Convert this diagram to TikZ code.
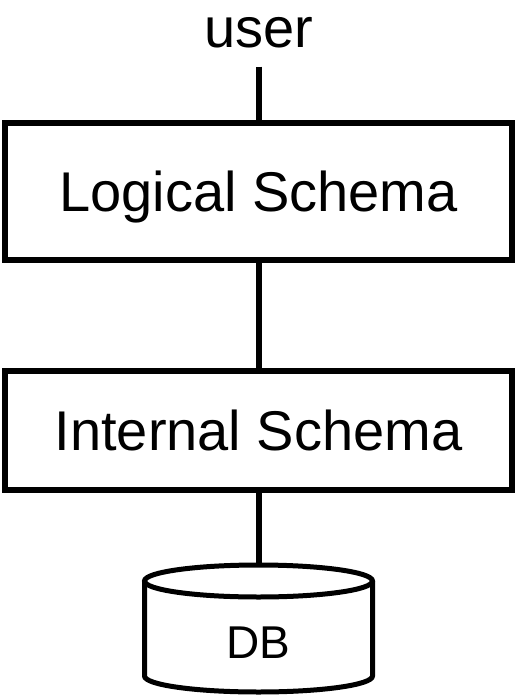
\documentclass[tikz,border=0pt]{standalone}
\usepackage{fontspec}
\setmainfont{Liberation Sans}
\begin{document}
\begin{tikzpicture}[x=1pt,y=1pt,
  schemabox/.style={draw=black, line width=6pt, minimum width=507pt, inner sep=0pt,
    text height=40pt, text depth=0pt, font=\fontsize{56}{60}\selectfont},
  conn/.style={draw=black, line width=6pt},
  big/.style={font=\fontsize{56}{60}\selectfont, inner sep=0pt}]
\useasboundingbox (0,0) rectangle (519,-699);
\node[big, anchor=base] (user) at (258.5,-47) {user};
\coordinate (usertop) at (258.5,-66.5);
\node[schemabox, minimum height=136.5pt] (b1) at (258.5,-191.25) {Logical Schema};
\node[schemabox, minimum height=118.5pt] (b2) at (258.5,-430.25) {Internal Schema};
\coordinate (dbtop) at (258.5,-565);
\draw[line width=5pt] (144.5,-581) -- (144.5,-676)
  arc[start angle=180, end angle=360, x radius=114, y radius=16]
  -- (372.5,-581);
\draw[line width=5pt] (258.5,-581) ellipse[x radius=114, y radius=16];
\node[font=\fontsize{46}{50}\selectfont, inner sep=0pt, anchor=base] (db) at (258.5,-658) {DB};
\draw[conn] (usertop) -- (b1.north);
\draw[conn] (b1.south) -- (b2.north);
\draw[conn] (b2.south) -- (dbtop);
\end{tikzpicture}
\end{document}
